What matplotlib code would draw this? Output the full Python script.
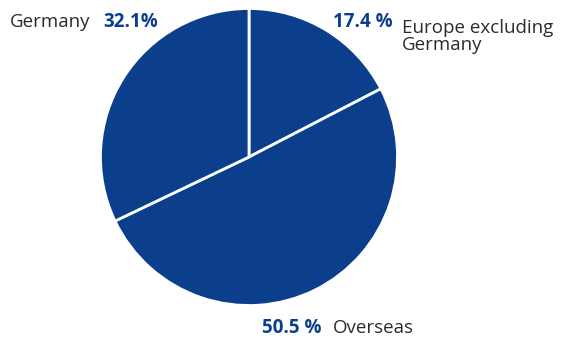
import matplotlib.pyplot as plt

# Revenue split by region
REGIONS = ["Europe excluding\nGermany", "Overseas", "Germany"]
SHARES = [17.4, 50.5, 32.1]
SHARE_LABELS = ["17.4 %", "50.5 %", "32.1%"]

BLUE = "#0b3f8c"
GREY = "#2b2b2b"
FONT = "Open Sans"


def main():
    fig = plt.figure(figsize=(5.61, 3.38), dpi=100)
    W, H = 561, 338
    cx, cy, r = 249, 338 - 157, 150
    ax = fig.add_axes([(cx - r) / W, (cy - r) / H, 2 * r / W, 2 * r / H])
    ax.pie(SHARES, startangle=90, counterclock=False, radius=1,
           colors=[BLUE] * len(SHARES),
           wedgeprops=dict(edgecolor="white", linewidth=2))
    ax.set_xlim(-1.01, 1.01)
    ax.set_ylim(-1.01, 1.01)
    ax.set_aspect("auto")
    ax.axis("off")

    fs = 13.5

    def px(x, y):
        return x / W, 1 - y / H

    # Germany: name then value
    fig.text(*px(10, 27), REGIONS[2], fontsize=fs, color=GREY,
             family=FONT, va="baseline")
    fig.text(*px(158, 27), SHARE_LABELS[2], fontsize=fs, color=BLUE,
             family=FONT, weight="bold", va="baseline", ha="right")

    # Europe excluding Germany: value then two-line name
    fig.text(*px(333, 27), SHARE_LABELS[0], fontsize=fs, color=BLUE,
             family=FONT, weight="bold", va="baseline")
    fig.text(*px(402, 50), REGIONS[0], fontsize=fs, color=GREY,
             family=FONT, va="baseline", linespacing=0.95)

    # Overseas: value then name
    fig.text(*px(262, 333), SHARE_LABELS[1], fontsize=fs, color=BLUE,
             family=FONT, weight="bold", va="baseline")
    fig.text(*px(333, 333), REGIONS[1], fontsize=fs, color=GREY,
             family=FONT, va="baseline")

    fig.savefig("out.png", dpi=100)


if __name__ == "__main__":
    main()
